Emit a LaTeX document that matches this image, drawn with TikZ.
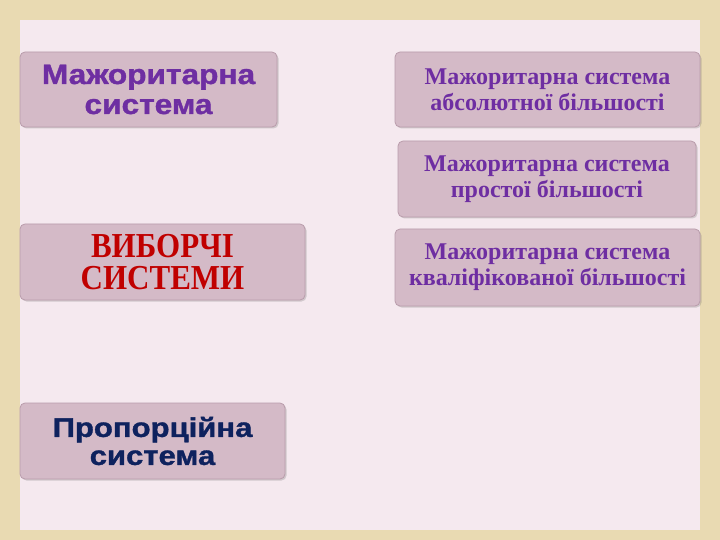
\documentclass[tikz,border=0pt]{standalone}
\usepackage{fontspec}
\setmainfont{Liberation Serif}
\newfontfamily\heavysans[BoldFeatures={FakeBold=1.2}]{Liberation Sans}
\usetikzlibrary{shadows}
\definecolor{parch}{HTML}{E9DAB2}
\definecolor{panel}{HTML}{F5E9EF}
\definecolor{boxfill}{HTML}{D4BAC7}
\definecolor{boxline}{HTML}{B99CAB}
\definecolor{purp}{HTML}{6E2EA2}
\definecolor{redt}{HTML}{C00000}
\definecolor{navy}{HTML}{0E225E}
\tikzset{
  sbox/.style={draw=boxline, line width=0.8pt, fill=boxfill, rounded corners=5pt,
    inner sep=0pt, align=center,
    drop shadow={shadow xshift=1.5pt, shadow yshift=-1.5pt, opacity=0.25, fill=black!60}},
  seriftxt/.style={font=\bfseries\fontsize{24}{26}\selectfont, text=purp},
}
\begin{document}
\begin{tikzpicture}[x=1pt,y=-1pt]
\useasboundingbox (0,0) rectangle (720,540);
\fill[parch] (0,0) rectangle (720,540);
\fill[panel] (20,20) rectangle (700,530);
\node[sbox, font=\heavysans\bfseries\fontsize{28}{30}\selectfont, text=purp, minimum width=257pt, minimum height=75pt] (maj) at (148.5,89.5)
  {\scalebox{1.13}[1]{Мажоритарна}\\\scalebox{1.13}[1]{система}};
\node[sbox, seriftxt, minimum width=305pt, minimum height=75pt] (abs) at (547.5,89.5)
  {Мажоритарна система\\абсолютної більшості};
\node[sbox, seriftxt, minimum width=298pt, minimum height=76pt] (simp) at (547,179)
  {Мажоритарна система\\простої більшості};
\node[sbox, seriftxt, minimum width=305pt, minimum height=77pt] (qual) at (547.5,267.5)
  {Мажоритарна система\\кваліфікованої більшості};
\node[sbox, font=\bfseries\fontsize{31}{32}\selectfont, text=redt, minimum width=285pt, minimum height=76pt] (vyb) at (162.5,262)
  {\scalebox{1}[1.13]{ВИБОРЧІ}\\\scalebox{1}[1.13]{СИСТЕМИ}};
\node[sbox, font=\heavysans\bfseries\fontsize{27}{28}\selectfont, text=navy, minimum width=265pt, minimum height=76pt] (prop) at (152.5,441)
  {\scalebox{1.15}[1]{Пропорційна}\\\scalebox{1.15}[1]{система}};
\end{tikzpicture}
\end{document}
